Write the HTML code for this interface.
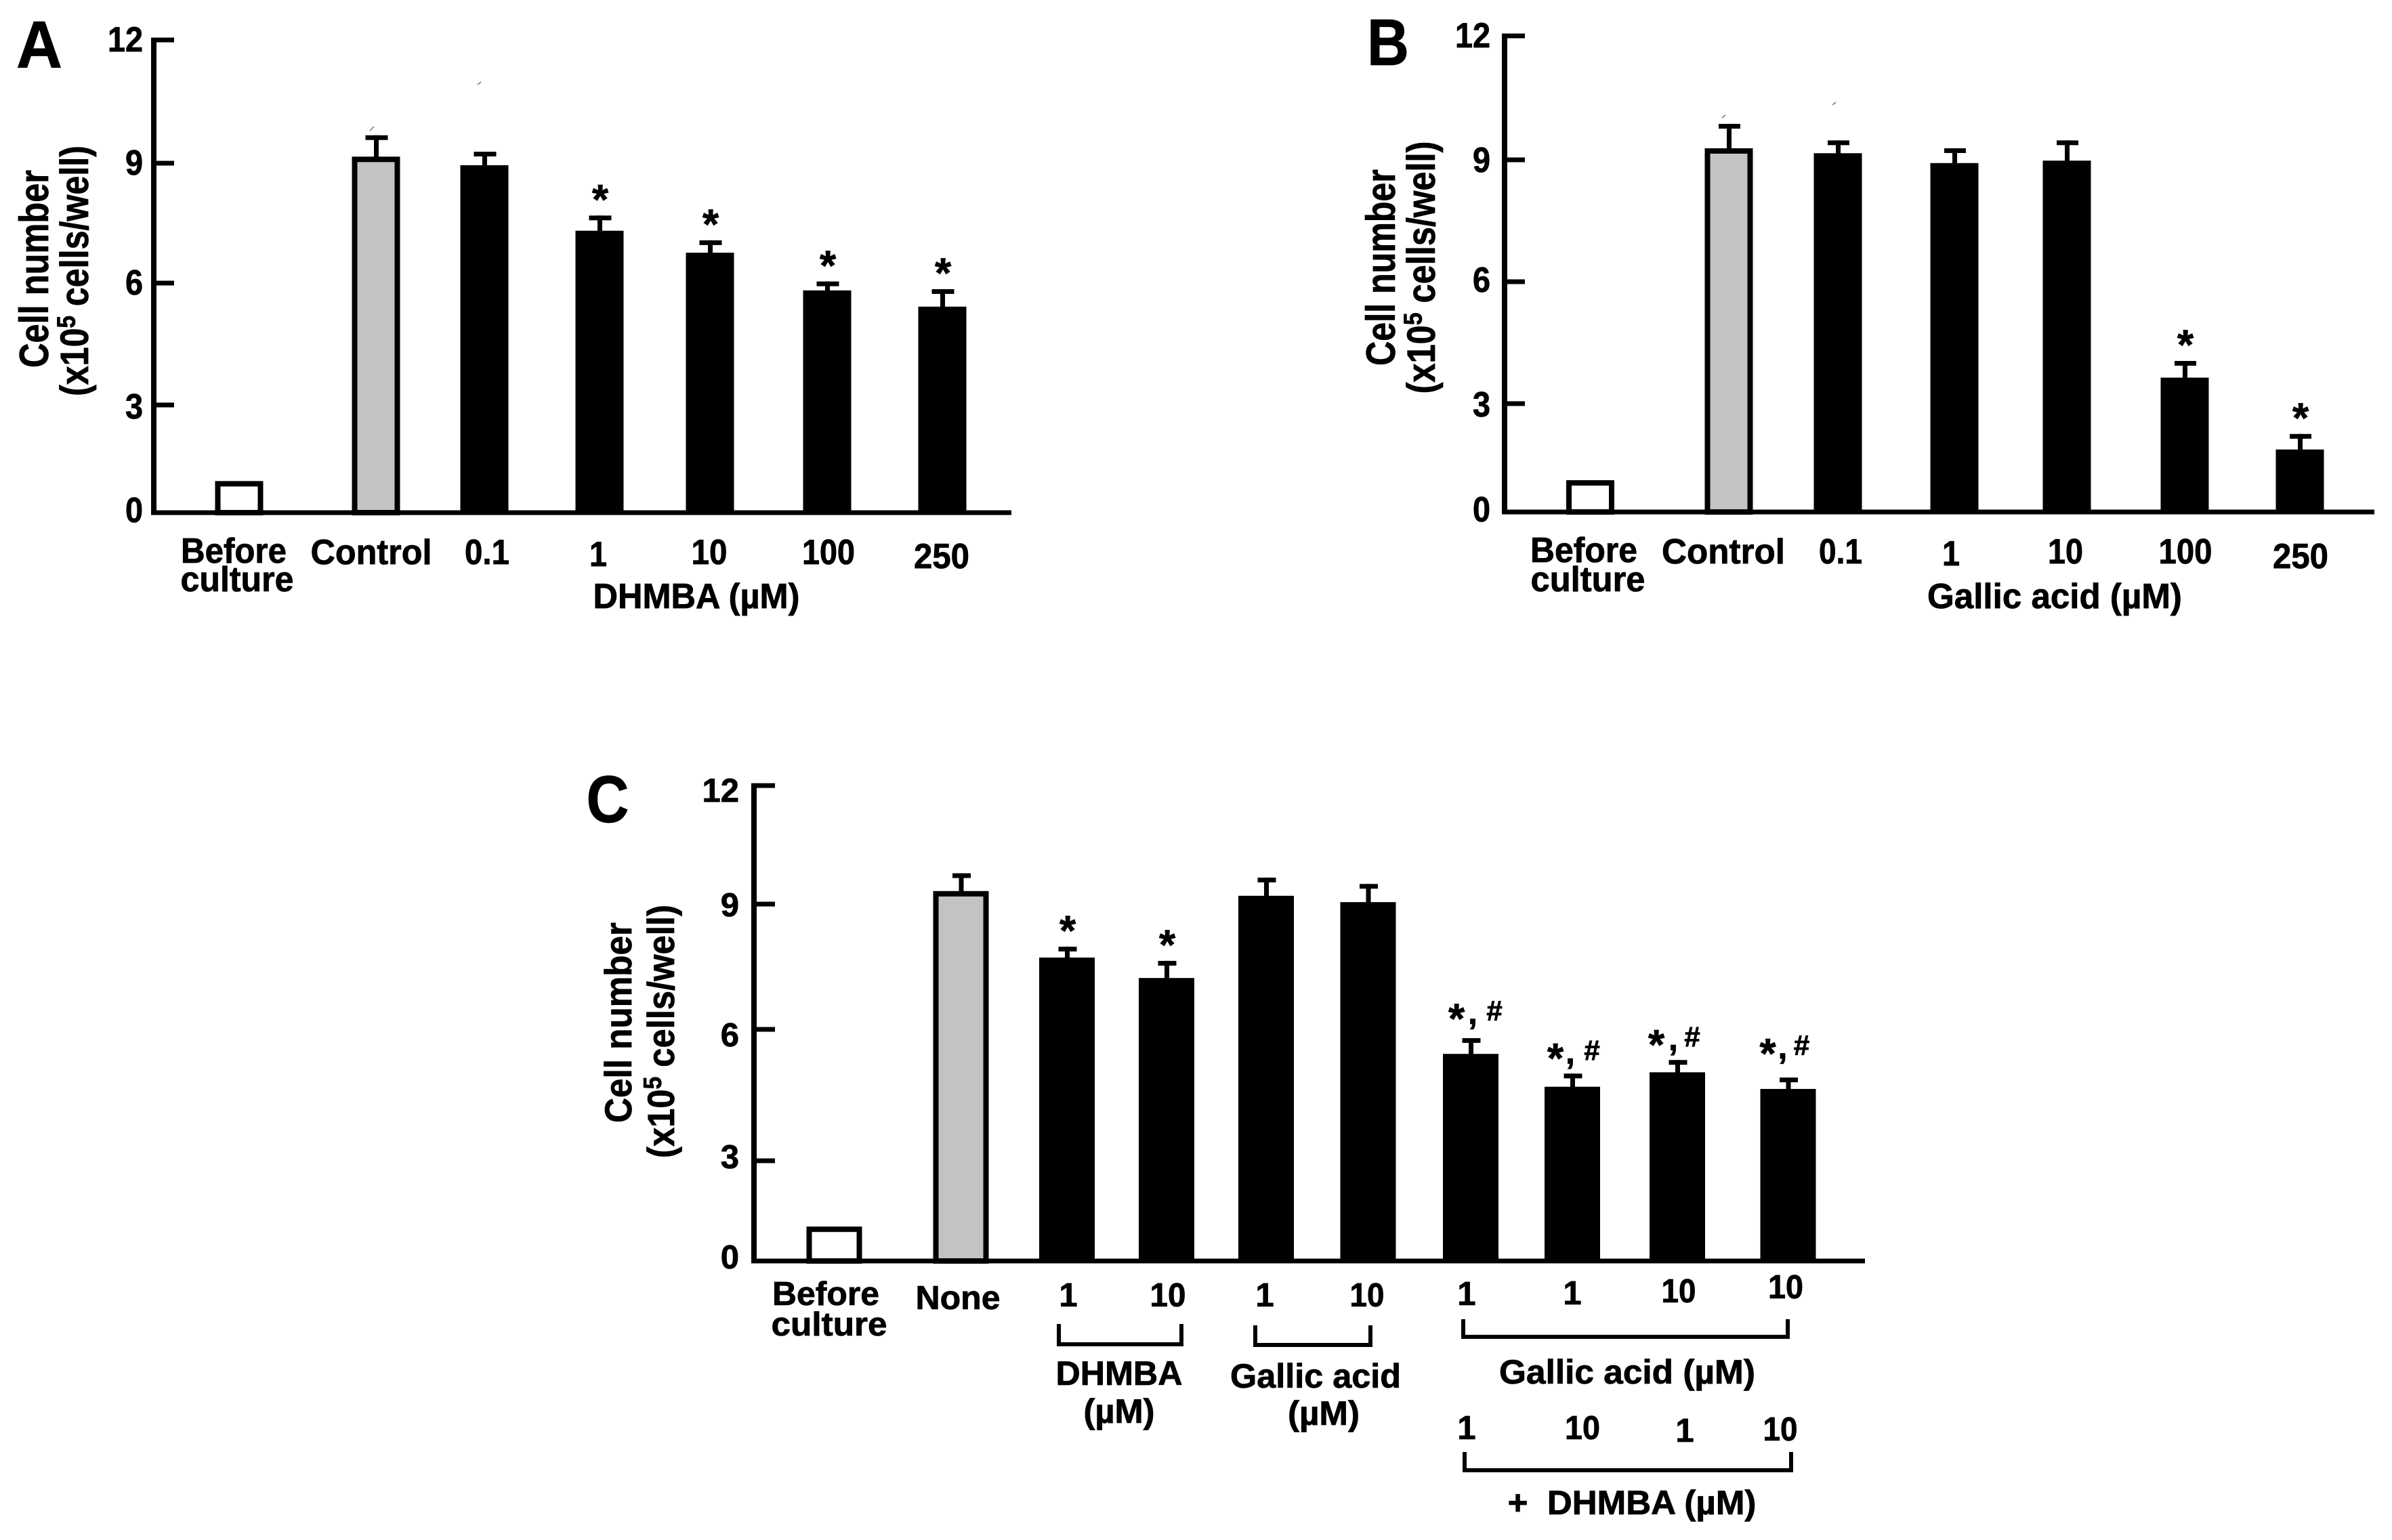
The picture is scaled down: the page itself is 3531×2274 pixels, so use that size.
<!DOCTYPE html>
<html lang="en">
<head>
<meta charset="utf-8">
<title>Cell number bar charts</title>
<style>
html,body{margin:0;padding:0;background:#fff;}
svg{display:block;}
text{font-family:"Liberation Sans",sans-serif;font-weight:bold;fill:#000;stroke:#000;stroke-width:0.8px;}
</style>
</head>
<body>
<svg id="figure" xmlns="http://www.w3.org/2000/svg" width="3531" height="2274" viewBox="0 0 3531 2274">
  <rect x="0" y="0" width="3531" height="2274" fill="#fff"/>
  <g id="panel-a"></g>
  <g id="panel-b"></g>
  <g id="panel-c"></g>
</svg>
<script>
// ---------- data ----------
const yTickValues = [0, 3, 6, 9, 12];

const aLabels = ['Before', 'culture', 'Control', '0.1', '1', '10', '100', '250'];
const aValues = [0.88, 9.16, 8.95, 7.31, 6.76, 5.82, 5.42];
const aErrors = [0, 0.52, 0.33, 0.38, 0.31, 0.22, 0.43];
const aMarks = ['', '', '', '*', '*', '*', '*'];

const bLabels = ['Before', 'culture', 'Control', '0.1', '1', '10', '100', '250'];
const bValues = [0.88, 9.28, 9.16, 8.92, 8.98, 3.64, 1.73];
const bErrors = [0, 0.59, 0.31, 0.36, 0.49, 0.41, 0.43];
const bMarks = ['', '', '', '', '', '*', '*'];

const cLabels = ['Before', 'culture', 'None', '1', '10', '1', '10', '1', '1', '10', '10'];
const cValues = [1.03, 9.33, 7.72, 7.23, 9.21, 9.05, 5.44, 4.69, 5.02, 4.64];
const cErrors = [0, 0.45, 0.26, 0.41, 0.46, 0.46, 0.36, 0.30, 0.28, 0.26];
const cMarks = ['', '', '*', '*', '', '', '*,#', '*,#', '*,#', '*,#'];
const cDoseLabels = ['1', '10', '1', '10'];

// ---------- layout (not data) ----------
const layoutA = {
  id: 'a', axisX: 227, axisRight: 1493, tickEnd: 257, barW: 71, capW: 33,
  band: { start: 377, step: 169, nudge: [-24, 9, 0, 1, -5, -1, 0] },
  yPix: { y0: 757, y3: 598, y6: 418, y9: 241, y12: 59 },
  tickRight: 211, tickBase: [771, 618, 435, 258, 76], textSize: 52, narrow: 0.9,
  title1: { x: 71, y: 397, len: 292, size: 60 }, title2: { x: 130, y: 400, len: 370, size: 58 },
  labels: [[345, 831, 156], [350, 873, 167], [548, 833, 179], [719, 833, 66], [883, 836, 0], [1047, 833, 53], [1223, 833, 78], [1390, 839, 82]],
  markGap: 39
};
const layoutB = {
  id: 'b', axisX: 2221, axisRight: 3505, tickEnd: 2251, barW: 71, capW: 32,
  band: { start: 2372, step: 170.5, nudge: [-24.5, 9.5, 0, 1.5, -3, 0.5, 0] },
  yPix: { y0: 756, y3: 596, y6: 416, y9: 236, y12: 53 },
  tickRight: 2200, tickBase: [770, 615, 431, 254, 70], textSize: 52, narrow: 0.9,
  title1: { x: 2059, y: 395, len: 290, size: 60 }, title2: { x: 2118, y: 395, len: 373, size: 58 },
  labels: [[2338, 830, 158], [2344, 873, 169], [2544, 832, 182], [2717, 832, 64], [2880, 835, 0], [3049, 832, 52], [3226, 832, 79], [3396, 839, 82]],
  markGap: 39
};
const layoutC = {
  id: 'c', axisX: 1113, axisRight: 2753, tickEnd: 1144, barW: 82, capW: 27,
  band: { start: 1271, step: 152, nudge: [-39.5, -4.5, 0, -5, -10, -11.5, -12, -14, -11, 0.5] },
  yPix: { y0: 1862, y3: 1714, y6: 1520, y9: 1335, y12: 1160 },
  tickRight: 1091, tickBase: [1873, 1725, 1545, 1353, 1184], textSize: 49, narrow: 1,
  title1: { x: 932, y: 1510, len: 296, size: 56 }, title2: { x: 995, y: 1523, len: 374, size: 56 },
  labels: [[1219, 1927, 158], [1224, 1972, 171], [1414, 1933, 125], [1577, 1929, 0], [1724, 1929, 53], [1867, 1929, 0], [2018, 1929, 51], [2165, 1927, 0], [2321, 1926, 0], [2478, 1923, 51], [2636, 1917, 52]],
  markGap: 39,
  comboMarks: [
    { star: -21, comma: 3, hash: 35, gap: 36 },
    { star: -25, comma: -3, hash: 29, gap: 30 },
    { star: -31, comma: -6, hash: 22, gap: 30 },
    { star: -30, comma: -8, hash: 20, gap: 43 }
  ]
};

// ---------- scales ----------
function makeYScale(pix) {
  const knots = [pix.y0, pix.y3, pix.y6, pix.y9, pix.y12];
  return function (v) {
    let i = Math.floor(v / 3);
    i = Math.max(0, Math.min(yTickValues.length - 2, i));
    const t = (v - yTickValues[i]) / (yTickValues[i + 1] - yTickValues[i]);
    return knots[i] + t * (knots[i + 1] - knots[i]);
  };
}
function makeXScale(band) {
  return function (i) {
    return band.start + i * band.step + (band.nudge[i] || 0);
  };
}

// ---------- primitives ----------
const NS = 'http://www.w3.org/2000/svg';
function rect(parent, name, x, y, w, h, fill, stroke, sw) {
  const el = document.createElementNS(NS, 'rect');
  
  
  el.setAttribute('x', x);
  el.setAttribute('y', y);
  el.setAttribute('width', w);
  el.setAttribute('height', h);
  el.setAttribute('fill', fill);
  if (stroke) { el.setAttribute('stroke', stroke); el.setAttribute('stroke-width', sw); }
  parent.appendChild(el);
  return el;
}
function path(parent, name, d, sw, color) {
  const el = document.createElementNS(NS, 'path');
  
  
  el.setAttribute('d', d);
  el.setAttribute('fill', 'none');
  el.setAttribute('stroke', color || '#000');
  el.setAttribute('stroke-width', sw);
  parent.appendChild(el);
  return el;
}
// Text placed by centre and baseline; scaled horizontally to a target width, or by `narrow` when no width is given.
function label(parent, name, str, cx, base, size, width, rotate, narrow) {
  const el = document.createElementNS(NS, 'text');
  
  
  el.setAttribute('font-size', size);
  el.setAttribute('text-anchor', 'middle');
  el.setAttribute('x', 0);
  el.setAttribute('y', 0);
  if (Array.isArray(str)) {
    str.forEach(function (part) {
      const ts = document.createElementNS(NS, 'tspan');
      ts.textContent = part.t;
      if (part.sup) {
        ts.setAttribute('font-size', size * 0.66);
        ts.setAttribute('dy', -size * 0.34);
      } else if (part.after) {
        ts.setAttribute('dy', size * 0.34);
      }
      el.appendChild(ts);
    });
  } else {
    el.textContent = str;
  }
  parent.appendChild(el);
  let sx = narrow || 1;
  if (width) { sx = width / el.getComputedTextLength(); }
  el.setAttribute('transform', 'translate(' + cx + ' ' + base + ')' + (rotate ? ' rotate(-90)' : '') + ' scale(' + sx.toFixed(4) + ' 1)');
  return el;
}

// ---------- panel drawing ----------
const STAR_SIZE = 62;
function star(parent, name, cx, cy) {
  return label(parent, name, '*', cx, cy + STAR_SIZE * 0.56, STAR_SIZE, 0);
}

function drawPanel(layout, labels, values, errors, marks, fillByIndex) {
  const g = document.getElementById('panel-' + layout.id);
  const y = makeYScale(layout.yPix);
  const x = makeXScale(layout.band);
  const p = layout.id + '-';

  // bars and error bars
  values.forEach(function (v, i) {
    const cx = x(i), top = y(v), base = y(0), w = layout.barW;
    if (errors[i] > 0) {
      const capY = y(v + errors[i]);
      rect(g, p + 'error-stem-' + i, cx - 3, capY, 7, top - capY + 4, '#000');
      rect(g, p + 'error-cap-' + i, cx - layout.capW / 2 + 1, capY, layout.capW, 7, '#000');
    }
    const fill = fillByIndex(i);
    if (fill === '#000') {
      rect(g, p + 'bar-' + i, cx - w / 2, top, w, base - top, '#000');
    } else {
      rect(g, p + 'bar-' + i, cx - w / 2 + 4, top + 4, w - 8, base - top - 4, fill, '#000', 8);
    }
    const cap = y(v + errors[i]);
    if (marks[i] === '*') {
      star(g, p + 'significance-star-' + i, cx + 1, cap - layout.markGap + 2);
    }
  });

  // axes
  path(g, p + 'y-axis', 'M' + layout.axisX + ' ' + (y(12) - 3.5) + 'V' + (y(0) + 3.5), 8);
  path(g, p + 'x-axis', 'M' + (layout.axisX - 4) + ' ' + y(0) + 'H' + layout.axisRight, 7);
  yTickValues.forEach(function (t, i) {
    if (t > 0) {
      path(g, p + 'y-tick-' + t, 'M' + layout.axisX + ' ' + y(t) + 'H' + layout.tickEnd, 7);
    }
    const lab = label(g, p + 'y-tick-label-' + t, String(t), 0, layout.tickBase[i], layout.textSize, 0);
    lab.setAttribute('text-anchor', 'end');
    lab.setAttribute('transform', 'translate(' + layout.tickRight + ' ' + layout.tickBase[i] + ') scale(' + layout.narrow + ' 1)');
  });

  // category labels
  labels.forEach(function (text, i) {
    const pos = layout.labels[i];
    label(g, p + 'x-label-' + i, text, pos[0], pos[1], layout.textSize, pos[2], false, layout.narrow);
  });

  // y-axis title
  label(g, p + 'y-axis-title', 'Cell number', layout.title1.x, layout.title1.y, layout.title1.size, layout.title1.len, true);
  label(g, p + 'y-axis-unit', [{ t: '(x10' }, { t: '5', sup: true }, { t: ' cells/well)', after: true }], layout.title2.x, layout.title2.y, layout.title2.size, layout.title2.len, true);
  return { g: g, x: x, y: y };
}

function fillAB(i) { return i === 0 ? '#fff' : (i === 1 ? '#c3c3c3' : '#000'); }

// Panel A
const pa = drawPanel(layoutA, aLabels, aValues, aErrors, aMarks, fillAB);
label(pa.g, 'a-panel-letter', 'A', 58, 100, 98, 68);
label(pa.g, 'a-x-axis-title', 'DHMBA (µM)', 1028, 898, 52, 305);
path(pa.g, 'a-speck-1', 'M546 193L552 187', 1.5, '#777');
path(pa.g, 'a-speck-2', 'M705 125L710 121', 1.5, '#777');

// Panel B
const pb = drawPanel(layoutB, bLabels, bValues, bErrors, bMarks, fillAB);
label(pb.g, 'b-panel-letter', 'B', 2049, 96, 97, 62);
label(pb.g, 'b-x-axis-title', 'Gallic acid (µM)', 3033, 898, 52, 376);
path(pb.g, 'b-speck-1', 'M2542 174L2547 170', 1.5, '#777');
path(pb.g, 'b-speck-2', 'M2705 155L2710 151', 1.5, '#777');

// Panel C
const pc = drawPanel(layoutC, cLabels, cValues, cErrors, cMarks, fillAB);
label(pc.g, 'c-panel-letter', 'C', 897, 1214, 98, 63);

// Combination markers "*, #"
let comboIndex = 0;
cMarks.forEach(function (m, i) {
  if (m === '*,#') {
    const cfg = layoutC.comboMarks[comboIndex];
    comboIndex += 1;
    const cx = pc.x(i);
    const cy = pc.y(cValues[i] + cErrors[i]) - cfg.gap;
    star(pc.g, 'c-combo-star-' + i, cx + cfg.star, cy - 6);
    label(pc.g, 'c-combo-comma-' + i, ',', cx + cfg.comma, cy + 15, 50, 0);
    label(pc.g, 'c-combo-hash-' + i, '#', cx + cfg.hash, cy + 10, 42, 0);
  }
});

// Group brackets
function bracket(name, x1, x2, top, bottom) {
  path(pc.g, name, 'M' + x1 + ' ' + top + 'V' + bottom + 'H' + x2 + 'V' + top, 6);
}
bracket('c-dhmba-bracket', 1563, 1744, 1955, 1985);
bracket('c-gallic-bracket', 1853, 2023, 1957, 1986);
bracket('c-combo-gallic-bracket', 2160, 2639, 1948, 1974);
bracket('c-combo-dhmba-bracket', 2162, 2644, 2144, 2171);

// Group captions
label(pc.g, 'c-dhmba-caption', 'DHMBA', 1652, 2045, 50, 187);
label(pc.g, 'c-dhmba-unit', '(µM)', 1652, 2101, 50, 105);
label(pc.g, 'c-gallic-caption', 'Gallic acid', 1942, 2049, 50, 252);
label(pc.g, 'c-gallic-unit', '(µM)', 1954, 2104, 50, 106);
label(pc.g, 'c-combo-gallic-caption', 'Gallic acid (µM)', 2402, 2043, 50, 378);
label(pc.g, 'c-combo-dhmba-caption', '+\u00A0\u00A0DHMBA (µM)', 2409, 2236, 50, 367);

// Second dose row
label(pc.g, 'c-dose-label-0', cDoseLabels[0], 2165, 2125, 49, 0);
label(pc.g, 'c-dose-label-1', cDoseLabels[1], 2336, 2125, 49, 52);
label(pc.g, 'c-dose-label-2', cDoseLabels[2], 2487, 2129, 49, 0);
label(pc.g, 'c-dose-label-3', cDoseLabels[3], 2628, 2127, 49, 51);
</script>
</body>
</html>
